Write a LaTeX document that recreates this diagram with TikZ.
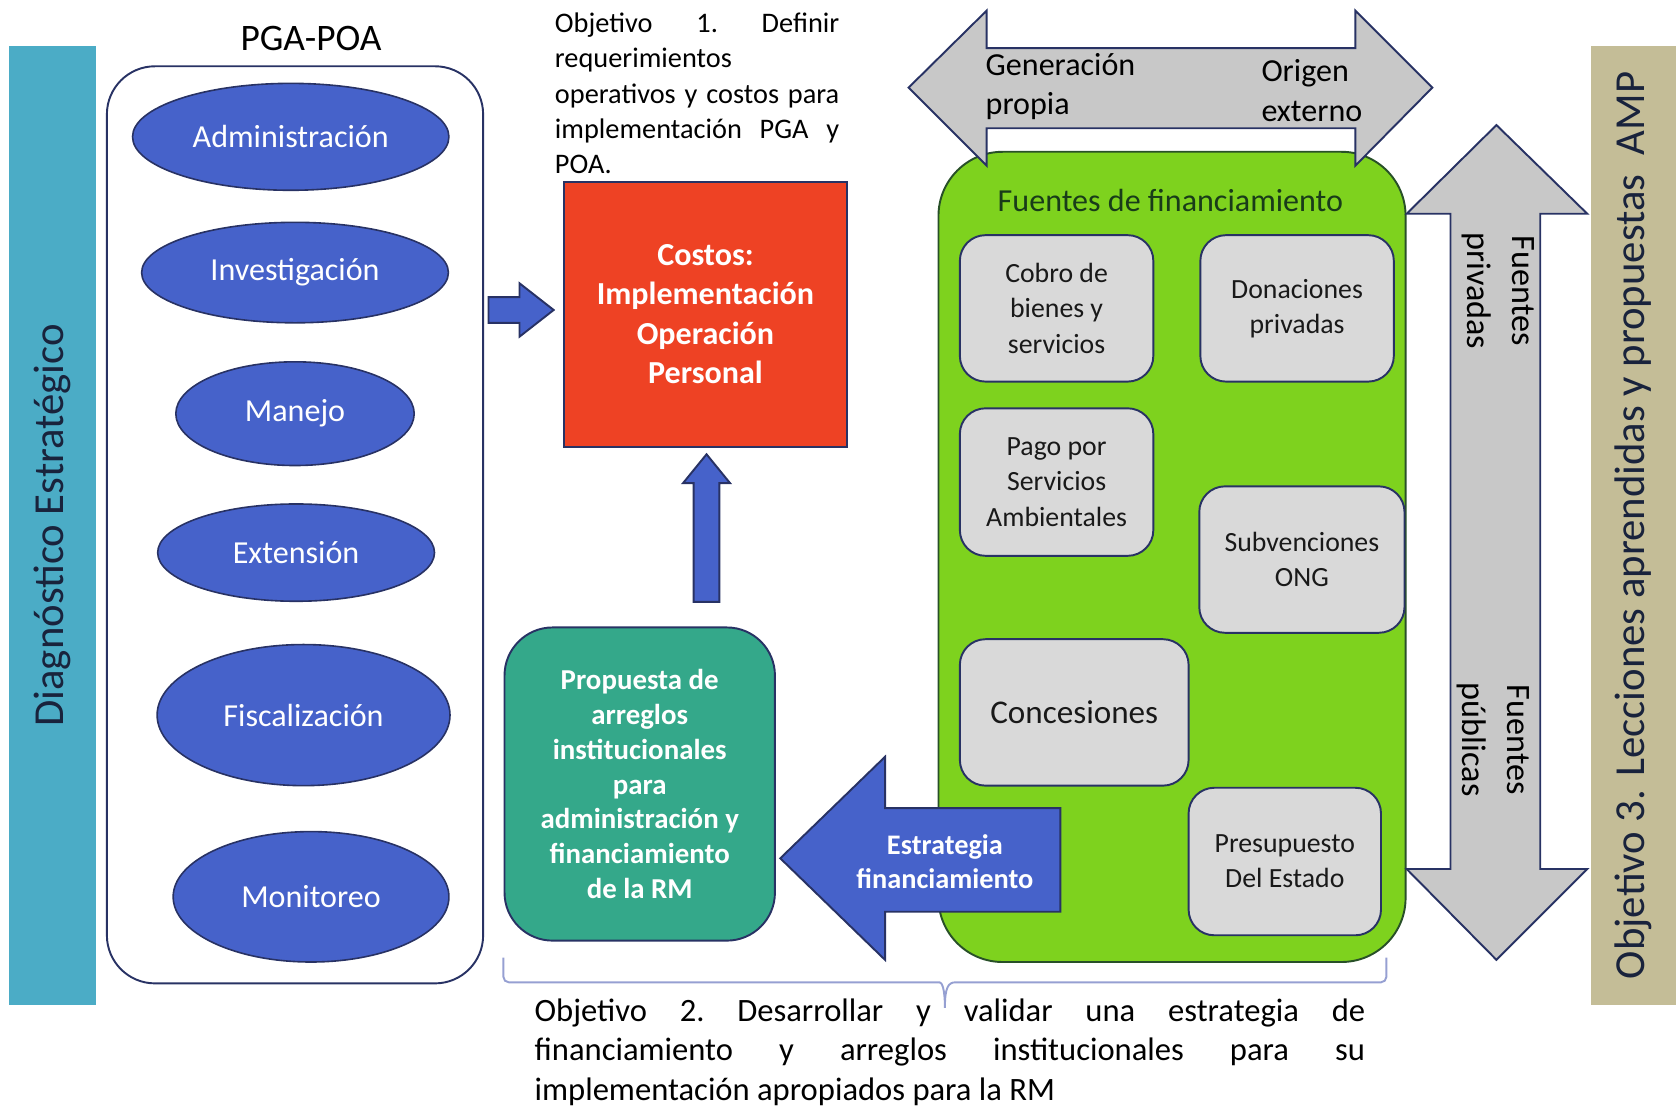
\documentclass[tikz,border=0pt]{standalone}
\usepackage{fontspec}
\setmainfont{Carlito}
\usetikzlibrary{shapes.geometric}
\definecolor{diagteal}{RGB}{75,172,198}
\definecolor{amptan}{RGB}{196,189,151}
\definecolor{elblue}{RGB}{70,98,202}
\definecolor{navy}{RGB}{40,50,100}
\definecolor{costred}{RGB}{238,66,36}
\definecolor{propgreen}{RGB}{52,168,138}
\definecolor{fgreen}{RGB}{126,210,30}
\definecolor{fborder}{RGB}{40,80,40}
\definecolor{darkgreen}{RGB}{25,60,25}
\definecolor{boxgray}{RGB}{217,217,217}
\definecolor{arrgray}{RGB}{200,200,200}
\definecolor{bracecol}{RGB}{150,160,210}
\definecolor{darktext}{RGB}{25,35,60}
\begin{document}
\begin{tikzpicture}[x=1pt,y=-1pt,
    bar/.style={rotate=90,inner sep=0,minimum height=82,minimum width=897,font=\fontsize{40}{48}\selectfont},
    area/.style={ellipse,draw=navy,line width=1.5,fill=elblue,text=white,inner sep=0,font=\fontsize{30}{36}\selectfont},
    fbox/.style={draw=navy,line width=1.8,fill=boxgray,text=black!90,rounded corners=24,align=center,inner sep=0,font=\fontsize{26}{33}\selectfont},
    blockarrow/.style={draw=navy,line width=1.8,fill=elblue},
    grayarrow/.style={draw=navy,line width=1.8,fill=arrgray}]
\useasboundingbox (0,0) rectangle (1568,1037);

% side bars
\node[bar,fill=diagteal,text=darktext] (diag) at (49,491.5) {Diagnóstico Estratégico};
\node[bar,fill=amptan,text=darktext,minimum height=80] (amp) at (1528,491.5) {Objetivo 3. Lecciones aprendidas y propuestas\ \ AMP};

% PGA-POA
\node[font=\fontsize{35}{40}\selectfont] (pgalabel) at (291,36) {PGA-POA};
\node[draw=navy,line width=1.8,rounded corners=45,minimum width=352,minimum height=858] (pga) at (276,491) {};
\node[area,minimum width=296,minimum height=100] (adm) at (272,128) {Administración};
\node[area,minimum width=287,minimum height=94] (inv) at (276,255) {Investigación};
\node[area,minimum width=223,minimum height=97] (man) at (276,387) {Manejo};
\node[area,minimum width=259,minimum height=91] (ext) at (277,517) {Extensión};
\node[area,minimum width=274,minimum height=132] (fis) at (284,669) {Fiscalización};
\node[area,minimum width=258,minimum height=122] (mon) at (291,839) {Monitoreo};

% objetivo 1
\node[anchor=north west,inner sep=0,text width=266,align=justify,font=\fontsize{26.5}{33}\selectfont] (obj1) at (519,12)
    {\frenchspacing\tolerance=10000\hyphenpenalty=10000 Objetivo 1. Definir\linebreak requerimientos\linebreak operativos y costos para\linebreak implementación PGA y\linebreak POA.};
\node[draw=navy,line width=1.8,fill=costred,text=white,align=center,inner sep=0,minimum width=264,minimum height=248,
    font=\bfseries\fontsize{30}{37}\selectfont] (costos) at (660,294) {Costos:\\Implementación\\Operación\\Personal};
\draw[blockarrow] (457,278) -- (486,278) -- (486,265) -- (518,290) -- (486,315) -- (486,302) -- (457,302) -- cycle;
\draw[blockarrow] (649,563) -- (649,452) -- (639,452) -- (661,425) -- (683,452) -- (673,452) -- (673,563) -- cycle;

% propuesta
\node[draw=navy,line width=1.8,fill=propgreen,text=white,rounded corners=45,align=center,inner sep=0,minimum width=253,minimum height=293,
    font=\bfseries\fontsize{27}{32.5}\selectfont] (prop) at (598.5,733.5)
    {Propuesta de\\arreglos\\institucionales\\para\\administración y\\financiamiento\\de la RM};

% fuentes de financiamiento
\node[draw=fborder,line width=1.8,fill=fgreen,rounded corners=60,minimum width=437,minimum height=758] (fuentes) at (1096.5,521) {};
\node[text=darkgreen,font=\fontsize{30}{36}\selectfont] (ftitle) at (1095,188) {Fuentes de financiamiento};
\node[fbox,minimum width=181,minimum height=137] (cobro) at (988.5,288.5) {Cobro de\\bienes y\\servicios};
\node[fbox,minimum width=181,minimum height=137] (donac) at (1213.5,288.5) {Donaciones\\privadas};
\node[fbox,minimum width=181,minimum height=138] (pago) at (988.5,451) {Pago por\\Servicios\\Ambientales};
\node[fbox,minimum width=192,minimum height=137] (subv) at (1218,523.5) {Subvenciones\\ONG};
\node[fbox,minimum width=214,minimum height=137,font=\fontsize{31}{36}\selectfont] (conc) at (1005,666.5) {Concesiones};
\node[fbox,minimum width=180,minimum height=138] (presu) at (1202,806) {Presupuesto\\Del Estado};

% estrategia
\draw[blockarrow] (730,803) -- (828,708) -- (828,756) -- (992,756) -- (992,853) -- (828,853) -- (828,898) -- cycle;
\node[text=white,align=center,font=\bfseries\fontsize{26.5}{32}\selectfont] (estr) at (884,806) {Estrategia\\financiamiento};

% origen
\draw[grayarrow] (850,82) -- (923,10) -- (923,45) -- (1268,45) -- (1268,10) -- (1340,82) -- (1268,155) -- (1268,120) -- (923,120) -- (923,155) -- cycle;
\node[anchor=west,inner sep=0,align=left,font=\fontsize{30}{37}\selectfont] (gen) at (922,81) {Generación\\propia};
\node[anchor=west,inner sep=0,align=left,font=\fontsize{30}{37}\selectfont] (ori) at (1180,85) {Origen\\externo};

\draw[grayarrow] (1400,117) -- (1485,200) -- (1441,200) -- (1441,813) -- (1485,813) -- (1400,898) -- (1316,813) -- (1357,813) -- (1357,200) -- (1316,200) -- cycle;
\node[rotate=-90,align=center,font=\fontsize{32}{42}\selectfont] (priv) at (1402,272) {Fuentes\\privadas};
\node[rotate=-90,align=center,font=\fontsize{32}{42}\selectfont] (publ) at (1397,692) {Fuentes\\públicas};

% objetivo 2
\coordinate (bl) at (471,896);
\coordinate (br) at (1297,896);
\coordinate (bt) at (884,943);
\draw[bracecol,line width=1.8] (bl) [rounded corners=5] |- (874,919) [sharp corners]
    .. controls (881,919) and (884,924) .. (bt) .. controls (884,924) and (887,919) .. (894,919) [rounded corners=5] -| (br);
\node[anchor=north west,inner sep=0,text width=777,align=justify,font=\fontsize{30.5}{37}\selectfont] (obj2) at (500,934)
    {\frenchspacing\tolerance=10000\hyphenpenalty=10000 Objetivo 2. Desarrollar y validar una estrategia de\linebreak financiamiento y arreglos institucionales para su\linebreak implementación apropiados para la RM};
\end{tikzpicture}
\end{document}
